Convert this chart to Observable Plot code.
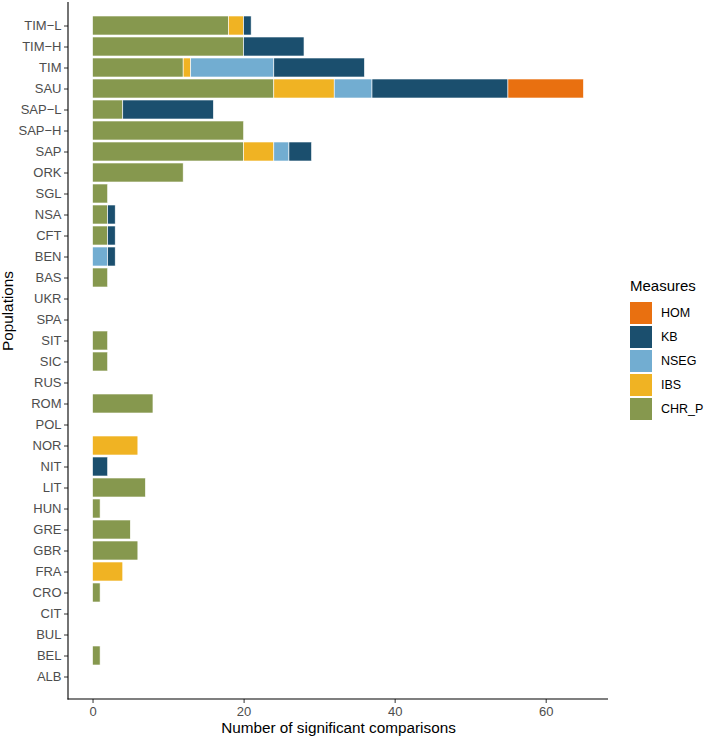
<!DOCTYPE html>
<html>
<head>
<meta charset="utf-8">
<script src="https://cdn.jsdelivr.net/npm/d3@7"></script>
<script src="https://cdn.jsdelivr.net/npm/@observablehq/plot@0.6"></script>
<style>
  body { margin: 0; background: #fff; font-family: "Liberation Sans", Arial, sans-serif; }
  #wrap { position: relative; width: 705px; height: 738px; }
  #chart { position: absolute; left: 0; top: 0; }
  #legend { position: absolute; left: 630px; top: 277px; font-family: "Liberation Sans", Arial, sans-serif; }
  #legend .title { font-size: 15px; color: #000; margin-bottom: 7px; }
  #legend .row { display: flex; align-items: center; height: 24px; }
  #legend .key { width: 22px; height: 22px; }
  #legend .lab { font-size: 12.5px; color: #000; margin-left: 9px; }
</style>
</head>
<body>
<div id="wrap"><div id="chart"></div><div id="legend"></div></div>
<script>
const populations = ["TIM−L","TIM−H","TIM","SAU","SAP−L","SAP−H","SAP","ORK","SGL","NSA","CFT","BEN","BAS","UKR","SPA","SIT","SIC","RUS","ROM","POL","NOR","NIT","LIT","HUN","GRE","GBR","FRA","CRO","CIT","BUL","BEL","ALB"];
const measures = ["CHR_P","IBS","NSEG","KB","HOM"];
const measureColors = ["#86984E","#F0B323","#72ADD1","#1B4F6E","#E97010"];
const CHR_P = [18,20,12,24,4,20,20,12,2,2,2,0,2,0,0,2,2,0,8,0,0,0,7,1,5,6,0,1,0,0,1,0];
const IBS   = [2,0,1,8,0,0,4,0,0,0,0,0,0,0,0,0,0,0,0,0,6,0,0,0,0,0,4,0,0,0,0,0];
const NSEG  = [0,0,11,5,0,0,2,0,0,0,0,2,0,0,0,0,0,0,0,0,0,0,0,0,0,0,0,0,0,0,0,0];
const KB    = [1,8,12,18,12,0,3,0,0,1,1,1,0,0,0,0,0,0,0,0,0,2,0,0,0,0,0,0,0,0,0,0];
const HOM   = [0,0,0,10,0,0,0,0,0,0,0,0,0,0,0,0,0,0,0,0,0,0,0,0,0,0,0,0,0,0,0,0];
const xTicks = [0,20,40,60];
const xTitle = "Number of significant comparisons";
const yTitle = "Populations";
const legendTitle = "Measures";

const series = {CHR_P, IBS, NSEG, KB, HOM};
const data = [];
measures.forEach(m => populations.forEach((p, i) => {
  if (series[m][i] > 0) data.push({pop: p, measure: m, value: series[m][i]});
}));

const xmin = -3.25, xmax = 68.25;
const chart = Plot.plot({
  width: 610, height: 738,
  marginLeft: 68, marginRight: 2, marginTop: 2, marginBottom: 39,
  style: {fontFamily: "Liberation Sans, Arial, sans-serif", background: "white"},
  x: {domain: [xmin, xmax]},
  y: {domain: populations, paddingInner: 0.1, paddingOuter: 0.15},
  color: {domain: measures, range: measureColors},
  marks: [
    Plot.barX(data, Plot.stackX({x: "value", y: "pop", fill: "measure", order: measures, stroke: "white", strokeWidth: 0.6})),
    Plot.axisX({ticks: xTicks, tickSize: 4, tickPadding: 3, label: null, fontSize: 13, fill: "#4D4D4D", stroke: "#333"}),
    Plot.axisY({tickSize: 4, tickPadding: 3, label: null, fontSize: 13, fill: "#4D4D4D", stroke: "#333"}),
    Plot.text([xTitle], {frameAnchor: "bottom", lineAnchor: "middle", dy: 29, fontSize: 15.3, fill: "black"}),
    Plot.text([yTitle], {frameAnchor: "left", lineAnchor: "middle", dx: -60, rotate: -90, fontSize: 15.3, fill: "black"})
  ]
});
document.getElementById("chart").appendChild(chart);

// axis lines (ggplot classic theme)
const sx = chart.scale("x");
const svg = d3.select(chart.tagName === "svg" ? chart : chart.querySelector("svg"));
const x0 = sx.range[0], x1 = sx.range[1];
const yTop = 2, yBot = 738 - 39;
svg.append("line").attr("x1", x0).attr("x2", x0).attr("y1", yTop).attr("y2", yBot + 0.5)
  .attr("stroke", "black").attr("stroke-width", 1.1);
svg.append("line").attr("x1", x0 - 0.5).attr("x2", x1).attr("y1", yBot).attr("y2", yBot)
  .attr("stroke", "black").attr("stroke-width", 1.1);

// legend (reverse order like ggplot)
const lg = d3.select("#legend");
lg.append("div").attr("class", "title").text(legendTitle);
measures.slice().reverse().forEach(m => {
  const row = lg.append("div").attr("class", "row");
  row.append("div").attr("class", "key").style("background", measureColors[measures.indexOf(m)]);
  row.append("div").attr("class", "lab").text(m);
});
</script>
</body>
</html>
